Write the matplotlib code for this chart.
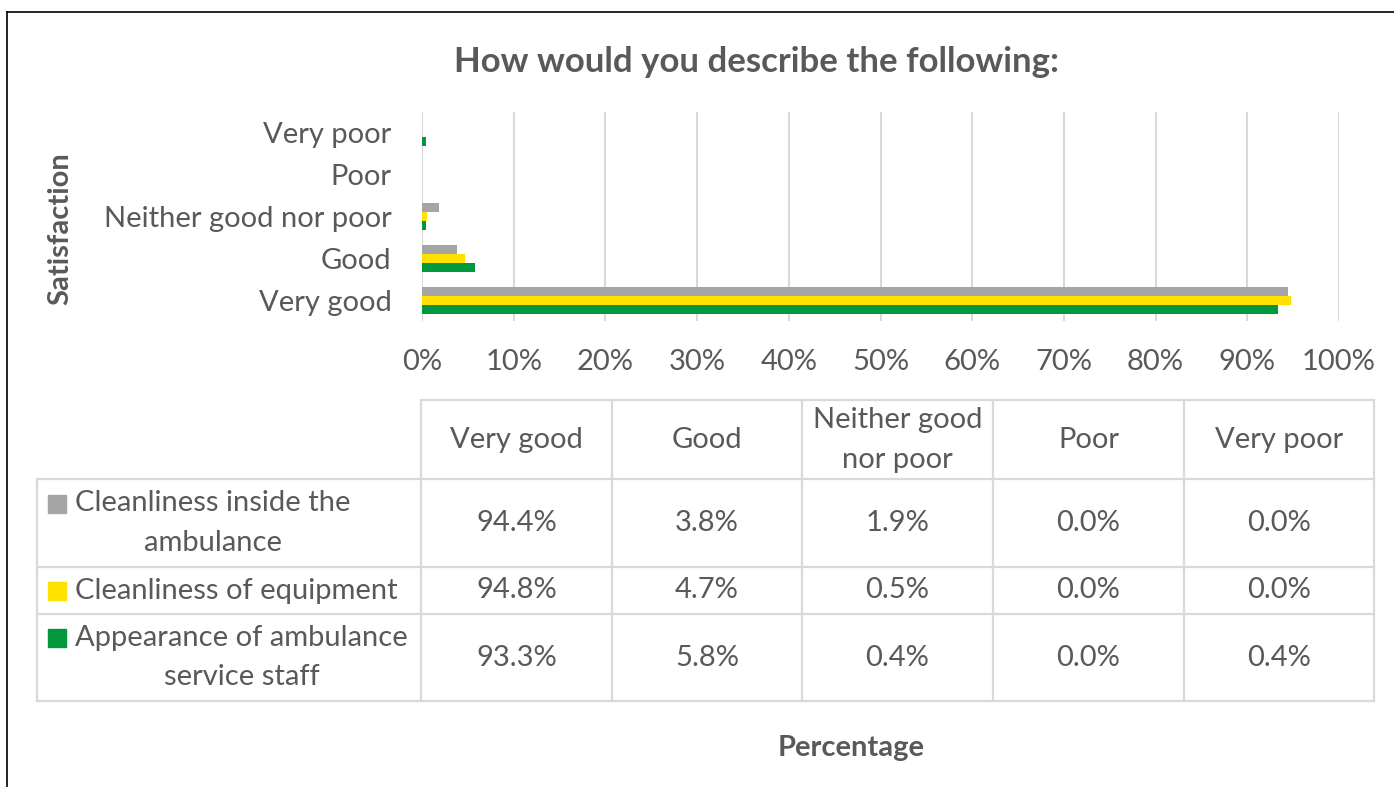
import matplotlib
matplotlib.use("Agg")
import matplotlib.pyplot as plt
import numpy as np

# ---- data ----
categories = ["Very good", "Good", "Neither good nor poor", "Poor", "Very poor"]
header_labels = ["Very good", "Good", "Neither good\nnor poor", "Poor", "Very poor"]
series_names = ["Cleanliness inside the\nambulance", "Cleanliness of equipment",
                "Appearance of ambulance\nservice staff"]
cleanliness_inside = [94.4, 3.8, 1.9, 0.0, 0.0]
cleanliness_equipment = [94.8, 4.7, 0.5, 0.0, 0.0]
appearance_staff = [93.3, 5.8, 0.4, 0.0, 0.4]
xticks = [0, 10, 20, 30, 40, 50, 60, 70, 80, 90, 100]
xtick_labels = [f"{t}%" for t in xticks]

colors = ["#A5A5A5", "#FFE000", "#00983A"]
series = [cleanliness_inside, cleanliness_equipment, appearance_staff]

TXT = "#595959"
GRID = "#D9D9D9"
FS = 21
LS = 1.62
plt.rcParams['font.family'] = ['Lato', 'DejaVu Sans']

W, H = 1394, 787
fig = plt.figure(figsize=(W / 100, H / 100), dpi=100)

def px_axes(l, t, r, b):
    return [l / W, 1 - b / H, (r - l) / W, (b - t) / H]

ax = fig.add_axes(px_axes(422, 112, 1339, 321))
y = np.arange(len(categories))
bh = 0.214
offsets = [bh, 0, -bh]
for vals, c, off in zip(series, colors, offsets):
    ax.barh(y + off, vals, height=bh, color=c, zorder=3)
ax.set_xlim(0, 100)
ax.set_ylim(-0.5, len(categories) - 0.5)
ax.set_xticks(xticks)
ax.set_xticklabels(xtick_labels)
ax.set_yticks(y)
ax.set_yticklabels(categories)
ax.tick_params(axis='x', length=0, pad=20, labelsize=FS, labelcolor=TXT)
ax.tick_params(axis='y', length=0, pad=22, labelsize=FS, labelcolor=TXT)
ax.grid(axis='x', color=GRID, lw=1.5, zorder=0)
for s in ax.spines.values():
    s.set_visible(False)

# overlay for table and decorations
ov = fig.add_axes([0, 0, 1, 1], zorder=5)
ov.set_xlim(0, W)
ov.set_ylim(H, 0)
ov.axis('off')
ov.patch.set_alpha(0)

# outer frame
ov.plot([7, W], [12, 12], color='black', lw=1.2)
ov.plot([7, 7], [12, H], color='black', lw=1.2)

# title and axis titles
ov.text(757, 62, "How would you describe the following:", ha='center', va='center',
        fontsize=25, fontweight='bold', color=TXT)
ov.text(60, 229, "Satisfaction", rotation=90, ha='center', va='center',
        fontsize=21, fontweight='bold', color=TXT)
ov.text(851, 748, "Percentage", ha='center', va='center',
        fontsize=21, fontweight='bold', color=TXT)

# table geometry
col_x = [37, 421, 612, 802, 993, 1184, 1374]
row_y = [400, 479, 567, 614, 701]
lw_t = 1.6
ov.plot([421, 1374], [400, 400], color=GRID, lw=lw_t)
for yy in row_y[1:]:
    ov.plot([37, 1374], [yy, yy], color=GRID, lw=lw_t)
ov.plot([37, 37], [479, 701], color=GRID, lw=lw_t)
for xx in col_x[1:]:
    ov.plot([xx, xx], [400, 701], color=GRID, lw=lw_t)

# header text
for i, lab in enumerate(header_labels):
    cx = (col_x[i + 1] + col_x[i + 2]) / 2
    ov.text(cx, 440, lab, ha='center', va='center', fontsize=FS, color=TXT,
            linespacing=LS, multialignment='center')

# rows
for r, (name, vals, c) in enumerate(zip(series_names, series, colors)):
    top, bot = row_y[r + 1], row_y[r + 2]
    cy = (top + bot) / 2
    nlines = name.count("\n") + 1
    first_line_y = cy - (nlines - 1) * 19.5
    ov.add_patch(plt.Rectangle((48, first_line_y - 9), 18, 18, color=c))
    ov.text(75, cy, name, ha='left', va='center', fontsize=FS, color=TXT,
            linespacing=LS, multialignment='center')
    for i, v in enumerate(vals):
        cx = (col_x[i + 1] + col_x[i + 2]) / 2
        ov.text(cx, cy, f"{v:.1f}%", ha='center', va='center', fontsize=FS, color=TXT)

fig.savefig("out.png", dpi=100)
